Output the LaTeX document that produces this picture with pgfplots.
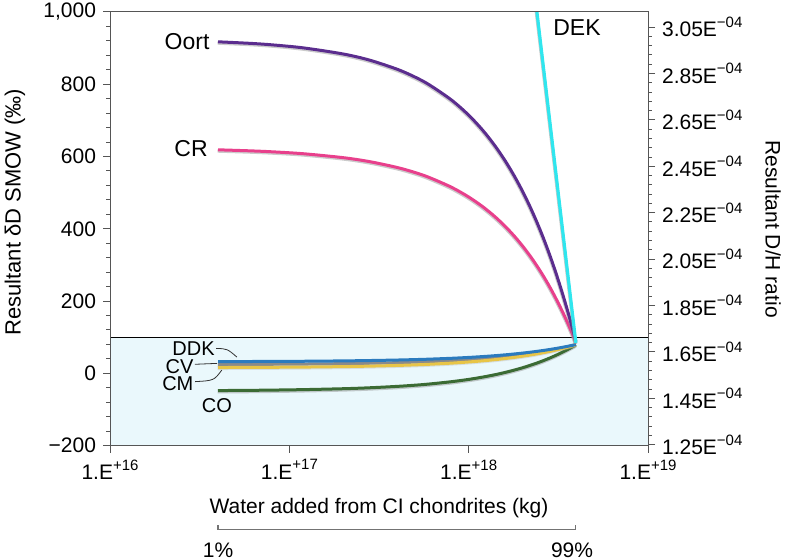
\documentclass[border=0pt]{standalone}
\usepackage{fontspec}
\setmainfont{Liberation Sans}
\usepackage{pgfplots}
\pgfplotsset{compat=1.18}
\usepackage{pgfplotstable}

\definecolor{oort}{HTML}{5B2D8E}
\definecolor{crc}{HTML}{E8408C}
\definecolor{dek}{HTML}{30E6EE}
\definecolor{ddk}{HTML}{2B7BBE}
\definecolor{cvc}{HTML}{8A8A8A}
\definecolor{cmc}{HTML}{E8C547}
\definecolor{coc}{HTML}{3B6B34}
\definecolor{bgblue}{HTML}{EAF8FC}
\definecolor{axgray}{HTML}{555555}

\newcommand{\Ep}[2]{#1E\raisebox{0.85ex}{\fontsize{7.5}{8}\selectfont #2}}

\pgfplotstableread{
x        oort   cr     ddk   cv    cm    co
4e16     917.5  618.6  32.5  24.6  16.0  -47.7
6e16     913.3  615.8  32.7  24.8  16.4  -47.1
8e16     909.1  613.1  33.0  25.1  16.7  -46.4
1.2e17   900.6  607.7  33.4  25.7  17.3  -45.1
2e17     883.7  596.8  34.4  26.8  18.6  -42.6
2.8e17   866.8  585.9  35.4  27.9  19.9  -40.0
4e17     841.4  569.6  36.8  29.6  21.8  -36.1
5e17     820.3  556.0  38.0  31.0  23.4  -32.9
6e17     799.1  542.4  39.2  32.4  25.0  -29.7
8e17     756.8  515.2  41.6  35.2  28.2  -23.2
1e18     714.5  488.0  44.0  38.0  31.4  -16.8
1.2e18   672.2  460.8  46.4  40.8  34.6  -10.3
1.4e18   629.9  433.6  48.8  43.6  37.8  -3.9
1.6e18   587.6  406.4  51.2  46.4  41.0  2.6
1.8e18   545.3  379.2  53.6  49.2  44.2  9.1
2e18     503.0  352.0  56.0  52.0  47.4  15.5
2.2e18   460.7  324.8  58.4  54.8  50.6  22.0
2.4e18   418.4  297.6  60.8  57.6  53.8  28.4
2.6e18   376.1  270.4  63.2  60.4  57.0  34.9
2.8e18   333.8  243.2  65.6  63.2  60.2  41.3
3e18     291.5  216.0  68.0  66.0  63.4  47.8
3.2e18   249.2  188.8  70.4  68.8  66.6  54.2
3.4e18   206.9  161.6  72.8  71.6  69.8  60.7
3.6e18   164.6  134.4  75.2  74.4  73.0  67.1
3.8e18   122.3  107.2  77.6  77.2  76.2  73.6
3.9e18   101.2  93.6   78.8  78.6  77.8  76.8
3.96e18  88.5   85.4   79.5  79.4  78.9  78.7
}\mixdata

\pgfplotstableread{
x        dek
2.153e18 1200
3.96e18  84
}\dekdata

\tikzset{shadowed/.style={preaction={draw=black!45, opacity=0.45, line width=1.7pt, transform canvas={xshift=-0.2pt,yshift=-0.6pt}}},
  lshadow/.style={preaction={draw=black!35, opacity=0.3, line width=1.5pt, transform canvas={xshift=-0.2pt,yshift=-0.5pt}}}}

\begin{document}
\begin{tikzpicture}
\begin{axis}[
  name=ax,
  scale only axis, width=269pt, height=216.8pt,
  xmode=log, log basis x=10,
  xmin=1e16, xmax=1e19, ymin=-200, ymax=1000,
  clip mode=individual,
  axis on top,
  tick pos=left, tick align=outside,
  axis line style={axgray, line width=0.5pt},
  tick style={axgray, line width=0.5pt},
  major tick length=3.5pt, minor tick length=1.8pt,
  xtick={1e16,1e17,1e18,1e19},
  xticklabels={\Ep{1.}{+16},\Ep{1.}{+17},\Ep{1.}{+18},\Ep{1.}{+19}},
  ytick={-200,0,200,400,600,800,1000},
  yticklabels={−200,0,200,400,600,800,{1,000}},
  minor y tick num=4,
  tick label style={font=\fontsize{10.5}{12}\selectfont},
]
\addplot[draw=none, fill=bgblue] coordinates {(1e16,-200) (1e19,-200) (1e19,100) (1e16,100)} -- cycle;
\addplot[black, line width=0.6pt] coordinates {(1e16,100) (1e19,100)};
\addplot[coc, line width=1.5pt, smooth, shadowed] table[x=x, y=co] {\mixdata};
\addplot[cvc, line width=1.5pt, smooth, lshadow] table[x=x, y=cv] {\mixdata};
\addplot[cmc, line width=1.5pt, smooth, lshadow] table[x=x, y=cm] {\mixdata};
\addplot[ddk, line width=1.5pt, smooth] table[x=x, y=ddk] {\mixdata};
\addplot[crc, line width=1.5pt, smooth, shadowed] table[x=x, y=cr] {\mixdata};
\addplot[oort, line width=1.5pt, smooth, shadowed] table[x=x, y=oort] {\mixdata};
\addplot[dek, line width=1.6pt, shadowed] table[x=x, y=dek] {\dekdata};

% curve labels
\node[anchor=east, inner sep=0pt, font=\fontsize{11.5}{13}\selectfont] at (axis cs:3.6e16,918) {Oort};
\node[anchor=east, inner sep=0pt, font=\fontsize{11.5}{13}\selectfont] at (axis cs:3.52e16,621) {CR};
\node[anchor=west, inner sep=0pt, font=\fontsize{11.5}{13}\selectfont] at (axis cs:2.95e18,957) {DEK};
\node[anchor=east, inner sep=0pt, font=\fontsize{10}{12}\selectfont] at (axis cs:3.85e16,69) {DDK};
\node[anchor=east, inner sep=0pt, font=\fontsize{10}{12}\selectfont] at (axis cs:2.93e16,19) {CV};
\node[anchor=east, inner sep=0pt, font=\fontsize{10}{12}\selectfont] at (axis cs:2.93e16,-29) {CM};
\node[anchor=center, inner sep=0pt, font=\fontsize{10}{12}\selectfont] at (axis cs:3.94e16,-90) {CO};
\draw[black!80, line width=0.4pt] (axis cs:3.9e16,69) .. controls (axis cs:4.5e16,68) .. (axis cs:5.1e16,45);
\draw[black!80, line width=0.4pt] (axis cs:2.97e16,25) .. controls (axis cs:3.4e16,27) .. (axis cs:3.95e16,27.5);
\draw[black!80, line width=0.4pt] (axis cs:2.98e16,-23) .. controls (axis cs:3.8e16,-20) .. (axis cs:4.2e16,9);

% axis titles
\node[rotate=90, font=\fontsize{11}{13}\selectfont] at (axis cs:2.95e15,446) {Resultant δD SMOW (‰)};
\node[rotate=-90, font=\fontsize{10.5}{12}\selectfont] at (axis cs:4.98e19,399) {Resultant D/H ratio};
\node[font=\fontsize{10.5}{12}\selectfont] at (axis cs:3.16e17,-373) {Water added from CI chondrites (kg)};

% 1% - 99% bracket
\draw[black!55, line width=0.6pt] (axis cs:4e16,-420) -- (axis cs:4e16,-432) -- (axis cs:3.96e18,-432) -- (axis cs:3.96e18,-420);
\node[font=\fontsize{10.5}{12}\selectfont] at (axis cs:4e16,-489) {1\%};
\node[font=\fontsize{10.5}{12}\selectfont] at (axis cs:3.77e18,-489) {99\%};
\end{axis}

\begin{axis}[
  scale only axis, width=269pt, height=216.8pt,
  xmode=log, xmin=1e16, xmax=1e19,
  ymin=1.24608e-4, ymax=3.1152e-4,
  axis x line=none, axis y line*=right,
  ytick pos=right, tick align=outside,
  axis line style={axgray, line width=0.5pt},
  tick style={axgray, line width=0.5pt},
  major tick length=3.5pt, minor tick length=1.8pt,
  ytick={1.25e-4,1.45e-4,1.65e-4,1.85e-4,2.05e-4,2.25e-4,2.45e-4,2.65e-4,2.85e-4,3.05e-4},
  yticklabels={\Ep{1.25}{−04},\Ep{1.45}{−04},\Ep{1.65}{−04},\Ep{1.85}{−04},\Ep{2.05}{−04},\Ep{2.25}{−04},\Ep{2.45}{−04},\Ep{2.65}{−04},\Ep{2.85}{−04},\Ep{3.05}{−04}},
  minor y tick num=4,
  tick label style={font=\fontsize{10.5}{12}\selectfont},
]
\addplot[draw=none] coordinates {(1e17,2e-4)};
\end{axis}

\pgfresetboundingbox
\path[use as bounding box] ([shift={(-55pt,-57.2pt)}]ax.south west) rectangle ([shift={(69pt,6pt)}]ax.north east);
\end{tikzpicture}
\end{document}
